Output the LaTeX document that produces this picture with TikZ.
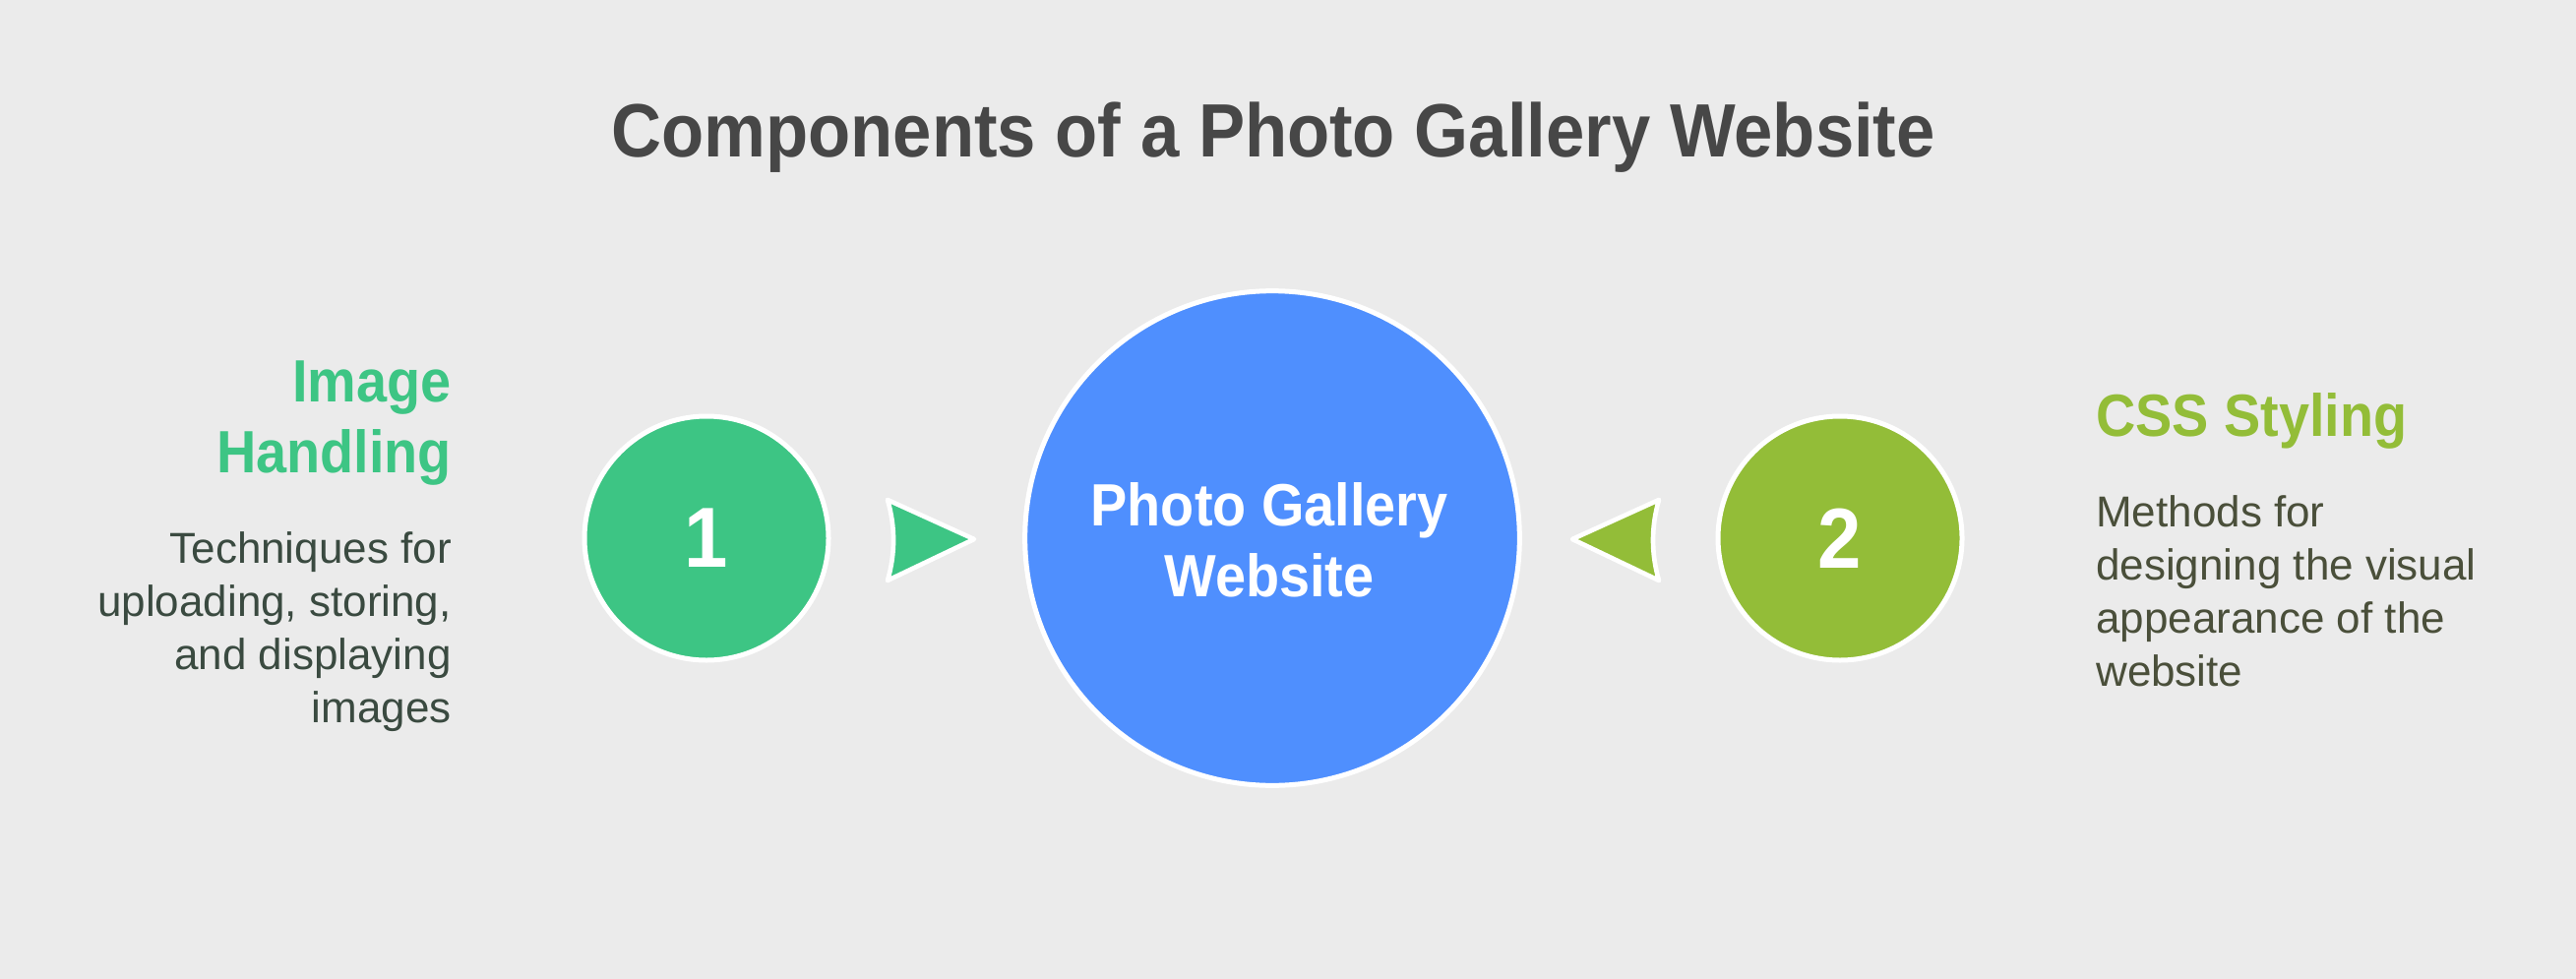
\documentclass[tikz,border=0pt]{standalone}
\usepackage{fontspec}
\setmainfont{Liberation Sans}[BoldFeatures={FakeStretch=0.92}]
\usetikzlibrary{positioning}
\definecolor{bgGray}{HTML}{EBEBEB}
\definecolor{titleGray}{HTML}{474747}
\definecolor{hubBlue}{HTML}{4F8FFE}
\definecolor{stepGreen}{HTML}{3DC584}
\definecolor{stepOlive}{HTML}{93BD38}
\definecolor{textGreen}{HTML}{3A4A40}
\definecolor{textOlive}{HTML}{4A4F3A}
\tikzset{
  disc/.style={circle, draw=white, line width=3.75pt, inner sep=0pt},
  head/.style={inner sep=0pt, font=\bfseries\fontsize{45.5}{54}\selectfont},
  desc/.style={inner sep=0pt, font=\fontsize{33}{40.5}\selectfont},
  pointer/.style={draw=white, line width=3.5pt, line join=round}
}
\begin{document}
\begin{tikzpicture}[x=0.75pt,y=0.75pt,yscale=-1,xscale=1]
\fill[bgGray] (0,0) rectangle (2618,995);
\useasboundingbox (0,0) rectangle (2618,995);
% Title
\draw (1294,160) node [anchor=base, inner sep=0pt, text=titleGray, font=\bfseries\fontsize{57.6}{66}\selectfont] (title) {Components of a Photo Gallery Website};
% Circles
\draw (1293,547) node [disc, fill=hubBlue, minimum size=377pt] (hub) {};
\draw (718,547) node [disc, fill=stepGreen, minimum size=186pt] (one) {};
\draw (1870,547) node [disc, fill=stepOlive, minimum size=186pt] (two) {};
% Numbers
\draw (one.center) node [text=white, font=\bfseries\fontsize{65}{70}\selectfont] (numOne) {1};
\draw (two.center) node [text=white, font=\bfseries\fontsize{65}{70}\selectfont] (numTwo) {2};
% Hub label
\draw (1290,606) node [anchor=base, head, text=white, align=center] (hubText) {Photo Gallery\\Website};
% Pointers
\draw[pointer, fill=stepGreen] (902,508) -- (990,548) -- (902,590) .. controls (910,563) and (910,535) .. cycle;
\draw[pointer, fill=stepOlive] (1686,508) -- (1598,548) -- (1686,590) .. controls (1678,563) and (1678,535) .. cycle;
% Text Node
\draw (459,480) node [anchor=base east, head, text=stepGreen, align=right] (headOne) {Image\\Handling};
% Text Node
\draw (459,734) node [anchor=base east, desc, text=textGreen, align=right] (descOne) {Techniques for\\uploading, storing,\\and displaying\\images};
% Text Node
\draw (2130,443) node [anchor=base west, head, text=stepOlive, align=left] (headTwo) {CSS Styling};
% Text Node
\draw (2130,697) node [anchor=base west, desc, text=textOlive, align=left] (descTwo) {Methods for\\designing the visual\\appearance of the\\website};
\end{tikzpicture}
\end{document}
